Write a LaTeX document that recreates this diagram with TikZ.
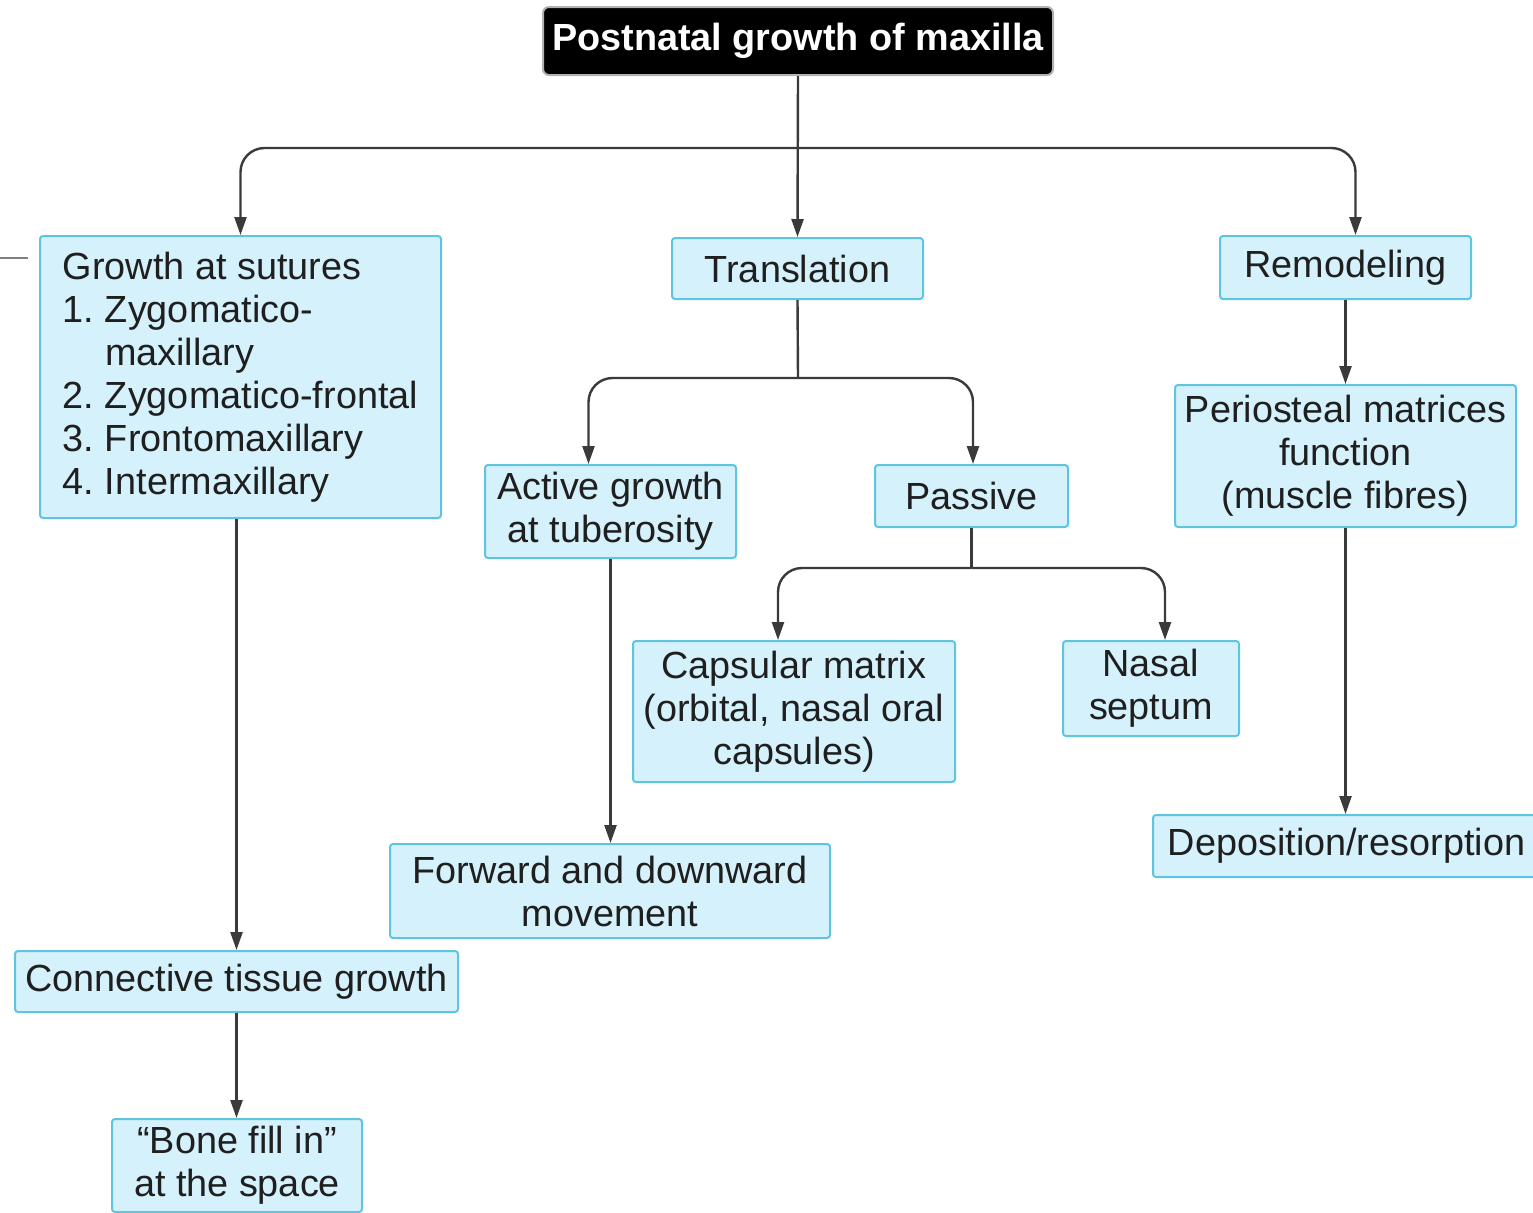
\documentclass[tikz,border=0pt]{standalone}
\usepackage{fontspec}
\setmainfont{Liberation Sans}
\usetikzlibrary{arrows.meta}
\definecolor{boxfill}{HTML}{D5F1FB}
\definecolor{boxline}{HTML}{5FC4E0}
\definecolor{lnk}{HTML}{3A3A3A}
\frenchspacing
\begin{document}
\begin{tikzpicture}[x=0.5pt,y=-0.5pt,
  box/.style={draw=boxline, fill=boxfill, line width=1pt, rounded corners=1.5pt,
    inner sep=0pt, align=center, font=\fontsize{18.9}{21.5}\selectfont, text=black!88},
  conn/.style={draw=lnk, line width=1.2pt, -{Triangle[length=9pt,width=6pt]}, rounded corners=12pt},
  plainln/.style={draw=lnk, line width=1.2pt}]
\useasboundingbox (0,0) rectangle (1533,1212);
\clip (0,0) rectangle (1533,1212);
\fill[white] (0,0) rectangle (1533,1212);
\draw[gray, line width=0.8pt] (0,258) -- (28,258);

\node[fill=black, draw=gray!60, line width=1pt, rounded corners=3pt, text=white,
  font=\bfseries\fontsize{18.9}{21.5}\selectfont, minimum width=255pt, minimum height=34pt, inner sep=0pt]
  (title) at (798,41) {Postnatal growth of maxilla};

\node[box, align=left, minimum width=200.5pt, minimum height=141pt] (sut) at (240.5,377)
  {Growth at sutures\\1. Zygomatico-\\\phantom{1. }maxillary\\2. Zygomatico-frontal\\3. Frontomaxillary\\4. Intermaxillary};
\node[box, minimum width=125.5pt, minimum height=30.5pt] (trans) at (797.5,268.5) {Translation};
\node[box, minimum width=125.5pt, minimum height=31.5pt] (rem) at (1345.5,267.5) {Remodeling};
\node[box, minimum width=125.5pt, minimum height=46.5pt] (act) at (610.5,511.5) {Active growth\\at tuberosity};
\node[box, minimum width=96.5pt, minimum height=31pt] (pas) at (971.5,496) {Passive};
\node[box, minimum width=170.5pt, minimum height=71pt] (per) at (1345.5,456) {Periosteal matrices\\function\\(muscle fibres)};
\node[box, minimum width=161pt, minimum height=70.5pt] (cap) at (794,711.5) {Capsular matrix\\(orbital, nasal oral\\capsules)};
\node[box, minimum width=88pt, minimum height=47.5pt] (nas) at (1151,688.5) {Nasal\\septum};
\node[box, minimum width=193.5pt, minimum height=31pt] (dep) at (1346.5,846) {Deposition/resorption};
\node[box, minimum width=220pt, minimum height=47pt] (fwd) at (610,891) {Forward and downward\\movement};
\node[box, minimum width=221.5pt, minimum height=30.5pt] (con) at (236.5,981.5) {Connective tissue growth};
\node[box, minimum width=125pt, minimum height=46.5pt] (bone) at (237,1165.5) {“Bone fill in”\\at the space};

\coordinate (b1) at (798,148);
\coordinate (b2) at (798,378);
\coordinate (b3) at (971.5,568);

\draw[conn] (title.south) -- (trans.north);
\draw[conn] (b1) -| (sut.north);
\draw[conn] (b1) -| ([xshift=5pt]rem.north);
\draw[plainln] (trans.south) -- (b2);
\draw[conn] (b2) -| ([xshift=-11pt]act.north);
\draw[conn] (b2) -| ([xshift=0.75pt]pas.north);
\draw[plainln] (pas.south) -- (b3);
\draw[conn] (b3) -| ([xshift=-8pt]cap.north);
\draw[conn] (b3) -| ([xshift=7pt]nas.north);
\draw[conn] (act.south) -- (fwd.north -| act.south);
\draw[conn] (con.north |- sut.south) -- (con.north);
\draw[conn] (con.south) -- (bone.north -| con.south);
\draw[conn] (rem.south) -- (per.north);
\draw[conn] (per.south) -- (dep.north -| per.south);
\end{tikzpicture}
\end{document}
